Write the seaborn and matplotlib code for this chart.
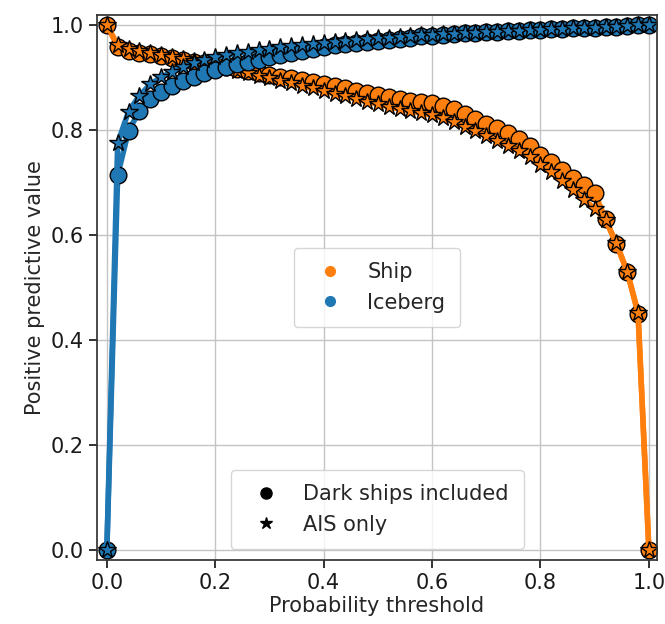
import numpy as np
import pandas as pd
import matplotlib.pyplot as plt
from matplotlib.lines import Line2D
import seaborn as sns

# Data
threshold = [round(0.02 * i, 2) for i in range(51)]

ship_dark = [1.0, 0.958, 0.950, 0.947, 0.944, 0.940, 0.937, 0.934, 0.930, 0.927,
             0.923, 0.920, 0.916, 0.913, 0.909, 0.905, 0.901, 0.898, 0.895, 0.891,
             0.887, 0.883, 0.879, 0.875, 0.871, 0.867, 0.863, 0.859, 0.856, 0.853,
             0.851, 0.846, 0.839, 0.830, 0.820, 0.811, 0.803, 0.794, 0.782, 0.769,
             0.753, 0.738, 0.724, 0.709, 0.695, 0.680, 0.630, 0.582, 0.530, 0.450,
             0.0]
ship_ais = [1.0, 0.962, 0.955, 0.950, 0.946, 0.943, 0.939, 0.935, 0.931, 0.927,
            0.922, 0.918, 0.913, 0.908, 0.903, 0.898, 0.893, 0.889, 0.884, 0.879,
            0.874, 0.869, 0.864, 0.859, 0.854, 0.849, 0.844, 0.840, 0.836, 0.832,
            0.828, 0.822, 0.815, 0.806, 0.797, 0.788, 0.779, 0.770, 0.759, 0.748,
            0.734, 0.719, 0.703, 0.685, 0.667, 0.650, 0.628, 0.585, 0.530, 0.452,
            0.0]
ice_dark = [0.0, 0.714, 0.798, 0.836, 0.859, 0.873, 0.884, 0.893, 0.901, 0.908,
            0.914, 0.920, 0.925, 0.930, 0.934, 0.938, 0.943, 0.947, 0.951, 0.955,
            0.958, 0.961, 0.964, 0.966, 0.968, 0.970, 0.972, 0.974, 0.976, 0.978,
            0.979, 0.981, 0.982, 0.984, 0.985, 0.986, 0.987, 0.988, 0.989, 0.990,
            0.991, 0.992, 0.993, 0.994, 0.994, 0.995, 0.996, 0.997, 0.998, 0.999,
            1.0]
ice_ais = [0.0, 0.775, 0.835, 0.865, 0.887, 0.900, 0.911, 0.920, 0.927, 0.933,
           0.938, 0.942, 0.946, 0.949, 0.952, 0.955, 0.958, 0.960, 0.962, 0.964,
           0.966, 0.968, 0.970, 0.972, 0.973, 0.975, 0.976, 0.977, 0.979, 0.980,
           0.981, 0.982, 0.983, 0.984, 0.985, 0.986, 0.987, 0.988, 0.989, 0.990,
           0.991, 0.992, 0.993, 0.994, 0.995, 0.995, 0.996, 0.997, 0.998, 0.999,
           1.0]

# Set-up
# --------------
sns.set_theme(style="ticks", font_scale=1.0)
plt.rcParams['font.family'] = ['DejaVu Sans']
FS = 15

df = pd.DataFrame({
    "threshold": threshold * 4,
    "ppv": ship_dark + ship_ais + ice_dark + ice_ais,
    "cls": ["Ship"] * 102 + ["Iceberg"] * 102,
    "src": (["dark"] * 51 + ["ais"] * 51) * 2,
})

colors = {"Ship": "tab:orange", "Iceberg": "tab:blue"}
markers = {"dark": ("o", 12), "ais": ("*", 13)}

fig, ax = plt.subplots(figsize=(6.65, 6.24), dpi=100)
fig.subplots_adjust(left=0.146, right=0.988, top=0.976, bottom=0.103)

for cls in ["Ship", "Iceberg"]:
    for src in ["dark", "ais"]:
        sub = df[(df["cls"] == cls) & (df["src"] == src)]
        mk, ms = markers[src]
        sns.lineplot(data=sub, x="threshold", y="ppv", color=colors[cls],
                     linewidth=4, marker=mk, markersize=ms,
                     markeredgecolor="black", markeredgewidth=1.0,
                     ax=ax, legend=False)

ax.set_xlim(-0.018, 1.015)
ax.set_ylim(-0.019, 1.019)
ax.set_xticks([0, 0.2, 0.4, 0.6, 0.8, 1.0])
ax.set_yticks([0, 0.2, 0.4, 0.6, 0.8, 1.0])
ax.grid(True, color="#c4c4c4", linewidth=1)
ax.tick_params(labelsize=FS, colors="#1a1a1a")
ax.set_xlabel("Probability threshold", fontsize=FS, labelpad=2)
ax.set_ylabel("Positive predictive value", fontsize=FS, labelpad=4)
for s in ax.spines.values():
    s.set_color("#333333")

# Legends
# --------------
cls_handles = [Line2D([], [], ls="", marker="o", color=colors[c], markersize=7, label=c)
               for c in ["Ship", "Iceberg"]]
leg1 = ax.legend(handles=cls_handles, loc="center", fontsize=FS, borderpad=0.7)
ax.add_artist(leg1)
src_handles = [
    Line2D([], [], ls="", marker="o", color="black", markersize=8, label="Dark ships included"),
    Line2D([], [], ls="", marker="*", color="black", markersize=9, label="AIS only"),
]
ax.legend(handles=src_handles, loc="lower center", fontsize=FS, borderpad=0.7)

fig.savefig("out.png", dpi=100)
